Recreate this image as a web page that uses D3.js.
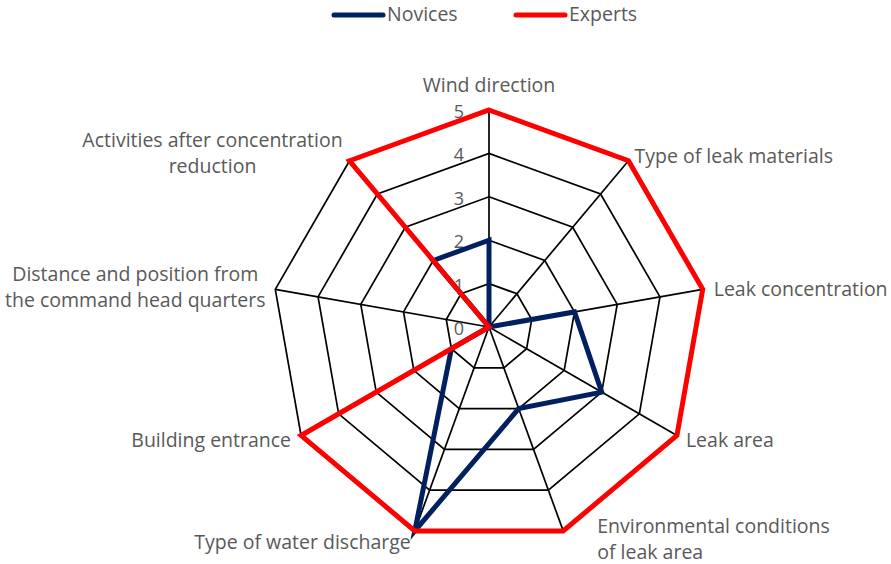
<!DOCTYPE html>
<html>
<head>
<meta charset="utf-8">
<script src="https://cdn.jsdelivr.net/npm/d3@7"></script>
<style>
  body { margin: 0; background: #fff; }
  text { font-family: "Open Sans", "Noto Sans", sans-serif; fill: #595959; }
</style>
</head>
<body>
<div id="chart"></div>
<script>
const width = 891
const height = 564

// axis names, clockwise from the top
const categories = [
  "Wind direction",
  "Type of leak materials",
  "Leak concentration",
  "Leak area",
  "Environmental conditions of leak area",
  "Type of water discharge",
  "Building entrance",
  "Distance and position from the command head quarters",
  "Activities after concentration reduction"
]
const novices = [2, 0, 2, 3, 2, 5, 1, 0, 2]
const experts = [5, 5, 5, 5, 5, 5, 5, 0, 5]
const tickValues = [0, 1, 2, 3, 4, 5]

// label lines per axis (wrapped like the original)
const labelLines = [
  ["Wind direction"],
  ["Type of leak materials"],
  ["Leak concentration"],
  ["Leak area"],
  ["Environmental conditions", "of leak area"],
  ["Type of water discharge"],
  ["Building entrance"],
  ["Distance and position from", "the command head quarters"],
  ["Activities after concentration", "reduction"]
]

const series = [
  {name: "Novices", values: novices, color: "#002060"},
  {name: "Experts", values: experts, color: "#ff0000"}
]

const cx = 489, cy = 327
const rScale = d3.scaleLinear().domain([0, 5]).range([0, 217])
const angle = i => i * 2 * Math.PI / categories.length

const point = (i, v) => [cx + rScale(v) * Math.sin(angle(i)), cy - rScale(v) * Math.cos(angle(i))]

const svg = d3.select("#chart").append("svg")
  .attr("width", width)
  .attr("height", height)

// grid rings
const ring = d3.line()
svg.selectAll("path.ring")
  .data(tickValues.slice(1))
  .join("path")
  .attr("class", "ring")
  .attr("d", t => ring(categories.map((c, i) => point(i, t))) + "Z")
  .attr("fill", "none")
  .attr("stroke", "#000")
  .attr("stroke-width", 1.7)

// spokes
svg.selectAll("line.spoke")
  .data(categories)
  .join("line")
  .attr("class", "spoke")
  .attr("x1", cx).attr("y1", cy)
  .attr("x2", (d, i) => point(i, 5)[0])
  .attr("y2", (d, i) => point(i, 5)[1])
  .attr("stroke", "#000")
  .attr("stroke-width", 1.7)

// tick labels along the top spoke
svg.selectAll("text.tick")
  .data(tickValues)
  .join("text")
  .attr("class", "tick")
  .attr("x", cx - 25)
  .attr("y", t => cy - rScale(t) + 8)
  .attr("text-anchor", "end")
  .style("font-size", "18px")
  .text(t => t)

// series
const seriesLine = d3.lineRadial()
  .angle((v, i) => angle(i))
  .radius(v => rScale(v))
  .curve(d3.curveLinearClosed)

svg.selectAll("path.series")
  .data(series)
  .join("path")
  .attr("class", "series")
  .attr("transform", `translate(${cx},${cy})`)
  .attr("d", s => seriesLine(s.values))
  .attr("fill", "none")
  .attr("stroke", s => s.color)
  .attr("stroke-width", 5)
  .attr("stroke-linejoin", "miter")

// category label offsets from the tip of each spoke
const labelPos = [
  {dx: 0, dy: -24, anchor: "middle"},
  {dx: 6, dy: -4, anchor: "start"},
  {dx: 11, dy: 1, anchor: "start"},
  {dx: 9, dy: 5, anchor: "start"},
  {dx: 34, dy: 9, anchor: "start"},
  {dx: -4, dy: 12, anchor: "end"},
  {dx: -10, dy: 5, anchor: "end"},
  {dx: -140, dy: -1, anchor: "middle"},
  {dx: -137, dy: -7, anchor: "middle"}
]
const lineHeight = 26

svg.selectAll("text.cat")
  .data(categories)
  .join("text")
  .attr("class", "cat")
  .attr("text-anchor", (d, i) => labelPos[i].anchor)
  .style("font-size", "19.5px")
  .each(function (d, i) {
    const [px, py] = point(i, 5)
    const lines = labelLines[i]
    const y0 = py + labelPos[i].dy + 6 - (lines.length - 1) * lineHeight / 2
    d3.select(this).selectAll("tspan")
      .data(lines)
      .join("tspan")
      .attr("x", px + labelPos[i].dx)
      .attr("y", (l, k) => y0 + k * lineHeight)
      .text(l => l)
  })

// legend
const legend = svg.selectAll("g.legend")
  .data(series)
  .join("g")
  .attr("class", "legend")
  .attr("transform", (s, i) => `translate(${334 + i * 182},15)`)
legend.append("line")
  .attr("x1", 0).attr("x2", 49)
  .attr("stroke", s => s.color)
  .attr("stroke-width", 5)
  .attr("stroke-linecap", "round")
legend.append("text")
  .attr("x", 53)
  .attr("y", 6)
  .style("font-size", "19.5px")
  .text(s => s.name)
</script>
</body>
</html>
